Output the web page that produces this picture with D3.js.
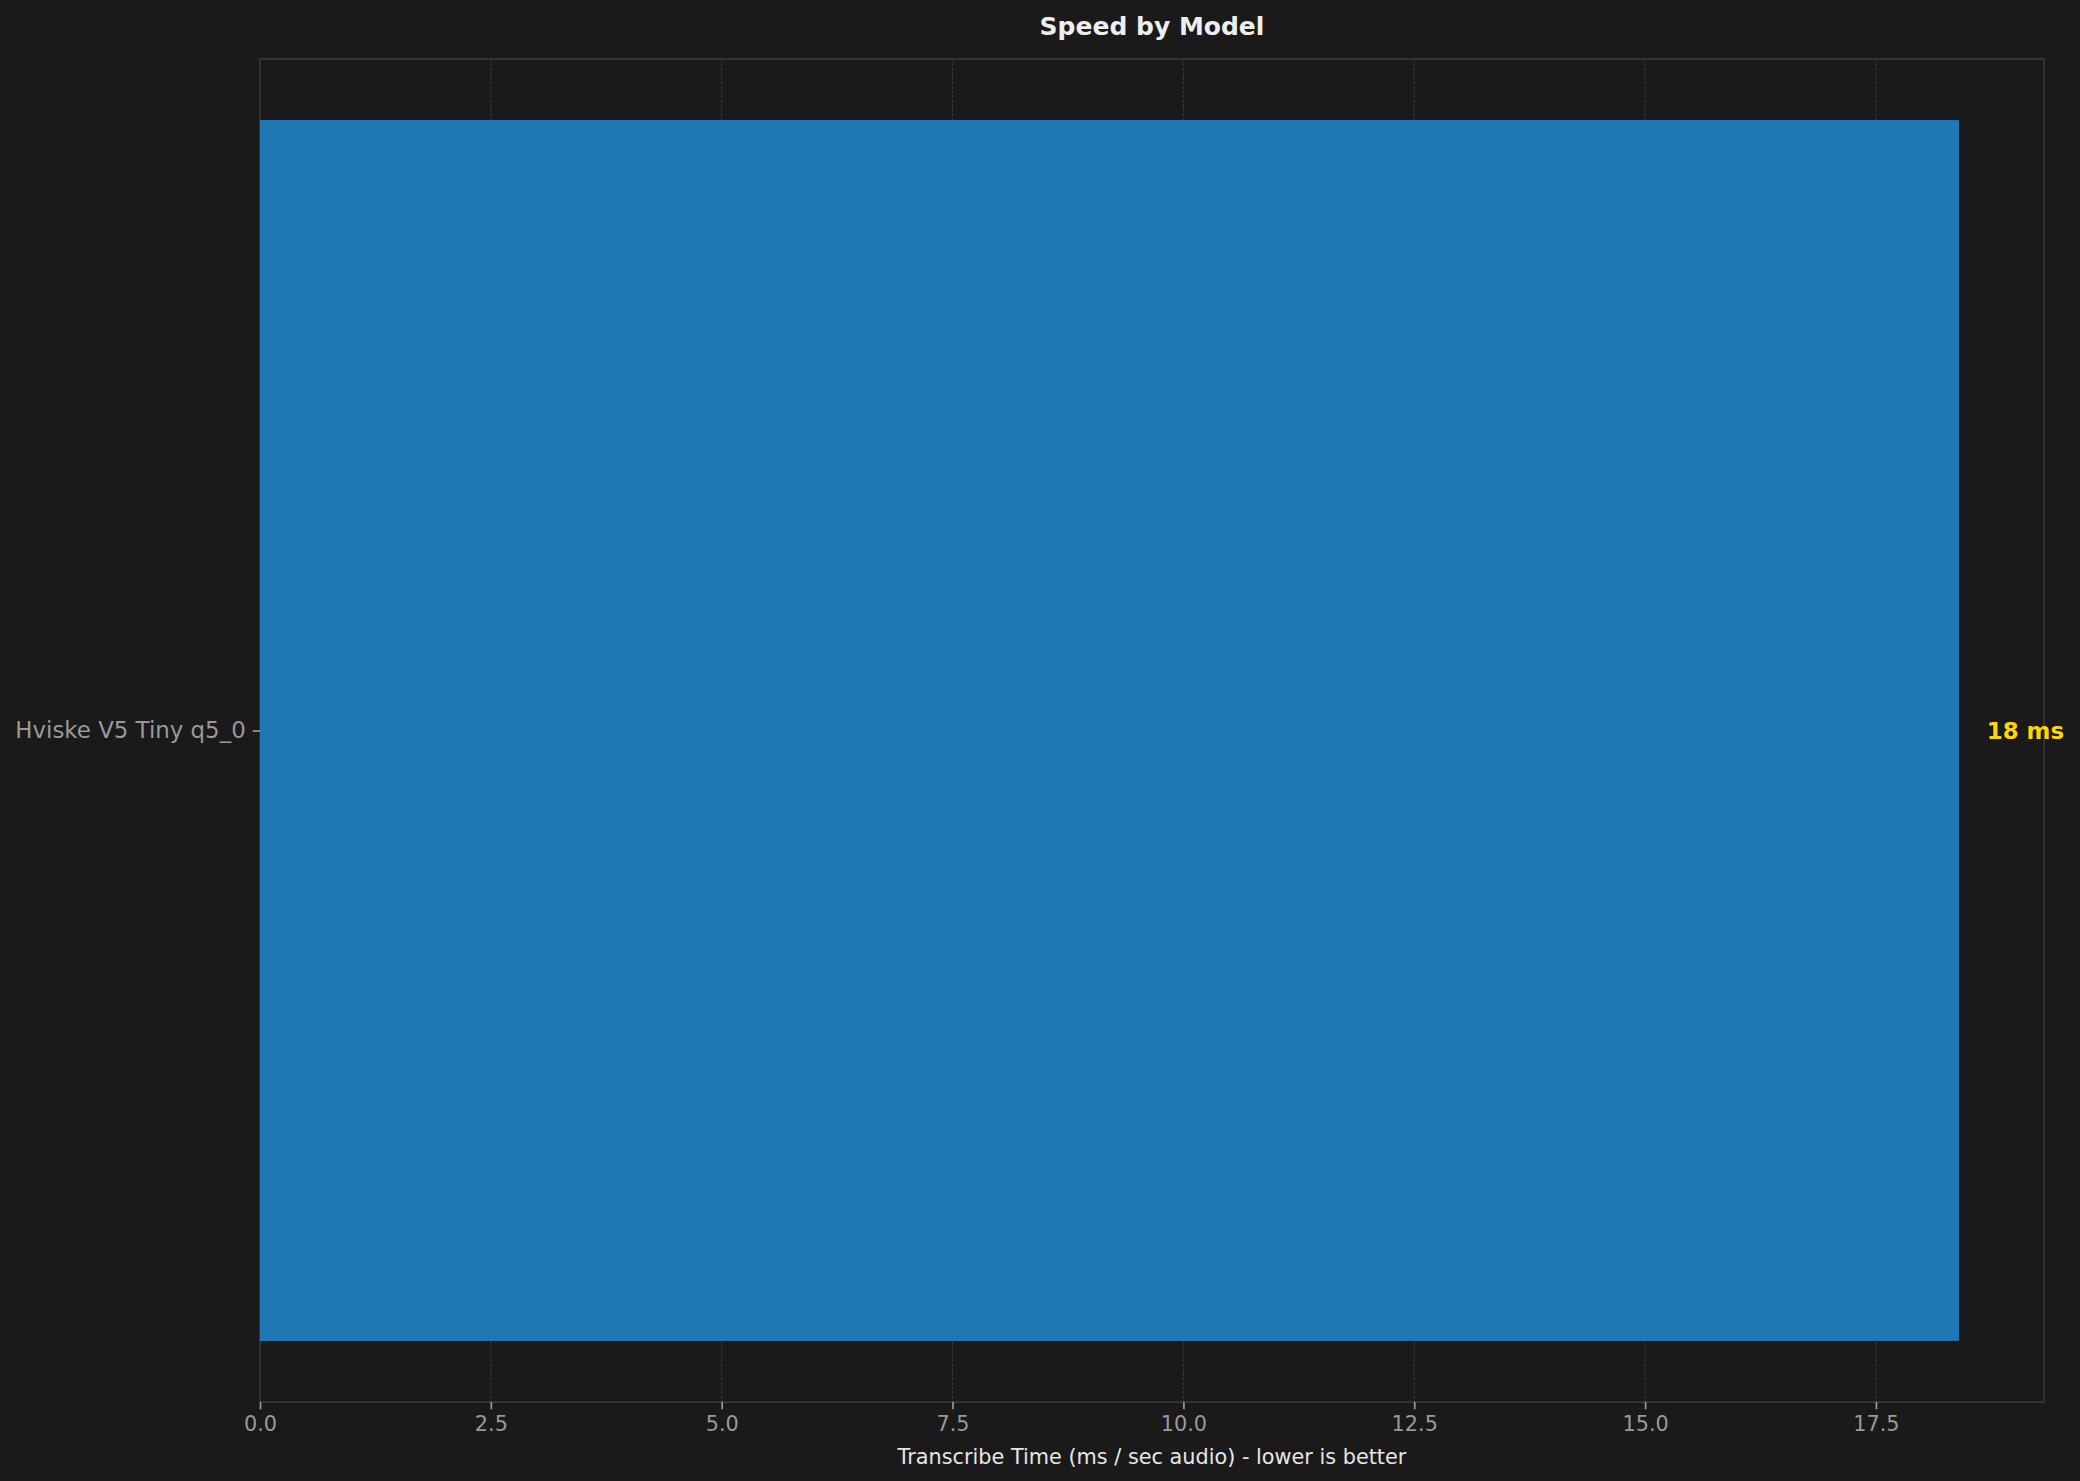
<!DOCTYPE html>
<html>
<head>
<meta charset="utf-8">
<script src="https://cdn.jsdelivr.net/npm/d3@7"></script>
<style>
  html, body { margin: 0; padding: 0; background: #1a1a1a; }
  svg { display: block; font-family: "DejaVu Sans", sans-serif; }
</style>
</head>
<body>
<svg id="chart"></svg>
<script>
const models = ["Hviske V5 Tiny q5_0"];
const times = [18.4];
const valueLabels = ["18 ms"];
const xTicks = [0, 2.5, 5, 7.5, 10, 12.5, 15, 17.5];

const W = 2080, H = 1481;
const margin = { top: 59, right: 36, bottom: 79, left: 260 };

const svg = d3.select('#chart')
  .attr('width', W)
  .attr('height', H);

svg.append('rect')
  .attr('width', W)
  .attr('height', H)
  .attr('fill', '#1a1a1a');

const x = d3.scaleLinear()
  .domain([0, d3.max(times) * 1.05])
  .range([margin.left, W - margin.right]);

// matplotlib style barh: bars 0.8 tall, 5% margins
const y = d3.scaleLinear()
  .domain([-0.44, models.length - 1 + 0.44])
  .range([margin.top, H - margin.bottom]);

// grid (x only, dashed)
svg.append('g')
  .selectAll('line')
  .data(xTicks)
  .enter().append('line')
  .attr('x1', d => x(d))
  .attr('x2', d => x(d))
  .attr('y1', margin.top)
  .attr('y2', H - margin.bottom)
  .attr('stroke', '#3c3c3c')
  .attr('stroke-width', 1)
  .attr('stroke-dasharray', '3,1.5');

// spines (under the bars, like the original)
svg.append('rect')
  .attr('x', margin.left)
  .attr('y', margin.top)
  .attr('width', W - margin.right - margin.left)
  .attr('height', H - margin.bottom - margin.top)
  .attr('fill', 'none')
  .attr('stroke', '#333333')
  .attr('stroke-width', 2);

// bars
svg.append('g')
  .selectAll('rect')
  .data(times)
  .enter().append('rect')
  .attr('x', x(0))
  .attr('y', (d, i) => y(i - 0.4))
  .attr('width', d => x(d) - x(0))
  .attr('height', (d, i) => y(i + 0.4) - y(i - 0.4))
  .attr('fill', '#1f77b4');

// value labels
svg.append('g')
  .selectAll('text')
  .data(times)
  .enter().append('text')
  .attr('x', d => x(d + 0.3))
  .attr('y', (d, i) => y(i))
  .attr('dy', '0.36em')
  .attr('fill', '#ffd700')
  .attr('font-size', '22.9px')
  .attr('font-weight', 'bold')
  .text((d, i) => valueLabels[i]);

// x axis
const xAxis = svg.append('g')
  .attr('transform', `translate(0,${H - margin.bottom})`)
  .call(d3.axisBottom(x)
    .tickValues(xTicks)
    .tickFormat(d3.format('.1f'))
    .tickSize(7.3)
    .tickPadding(7));
xAxis.select('.domain').remove();
xAxis.selectAll('.tick line').attr('stroke', '#999').attr('stroke-width', 1.7);
xAxis.selectAll('.tick text')
  .attr('fill', '#999')
  .attr('font-size', '20.8px')
  .attr('font-family', '"DejaVu Sans", sans-serif');

// y axis
const yAxis = svg.append('g')
  .attr('transform', `translate(${margin.left},0)`)
  .call(d3.axisLeft(y)
    .tickValues(d3.range(models.length))
    .tickFormat(i => models[i])
    .tickSize(7.3)
    .tickPadding(7));
yAxis.select('.domain').remove();
yAxis.selectAll('.tick line').attr('stroke', '#999').attr('stroke-width', 1.7);
yAxis.selectAll('.tick text')
  .attr('fill', '#999')
  .attr('font-size', '22.9px')
  .attr('font-family', '"DejaVu Sans", sans-serif');

// title
svg.append('text')
  .attr('x', (margin.left + W - margin.right) / 2)
  .attr('y', 35)
  .attr('text-anchor', 'middle')
  .attr('fill', '#eeeeee')
  .attr('font-size', '25px')
  .attr('font-weight', 'bold')
  .text('Speed by Model');

// x label
svg.append('text')
  .attr('x', (margin.left + W - margin.right) / 2)
  .attr('y', 1464)
  .attr('text-anchor', 'middle')
  .attr('fill', '#e6e6e6')
  .attr('font-size', '20.8px')
  .text('Transcribe Time (ms / sec audio) - lower is better');
</script>
</body>
</html>
